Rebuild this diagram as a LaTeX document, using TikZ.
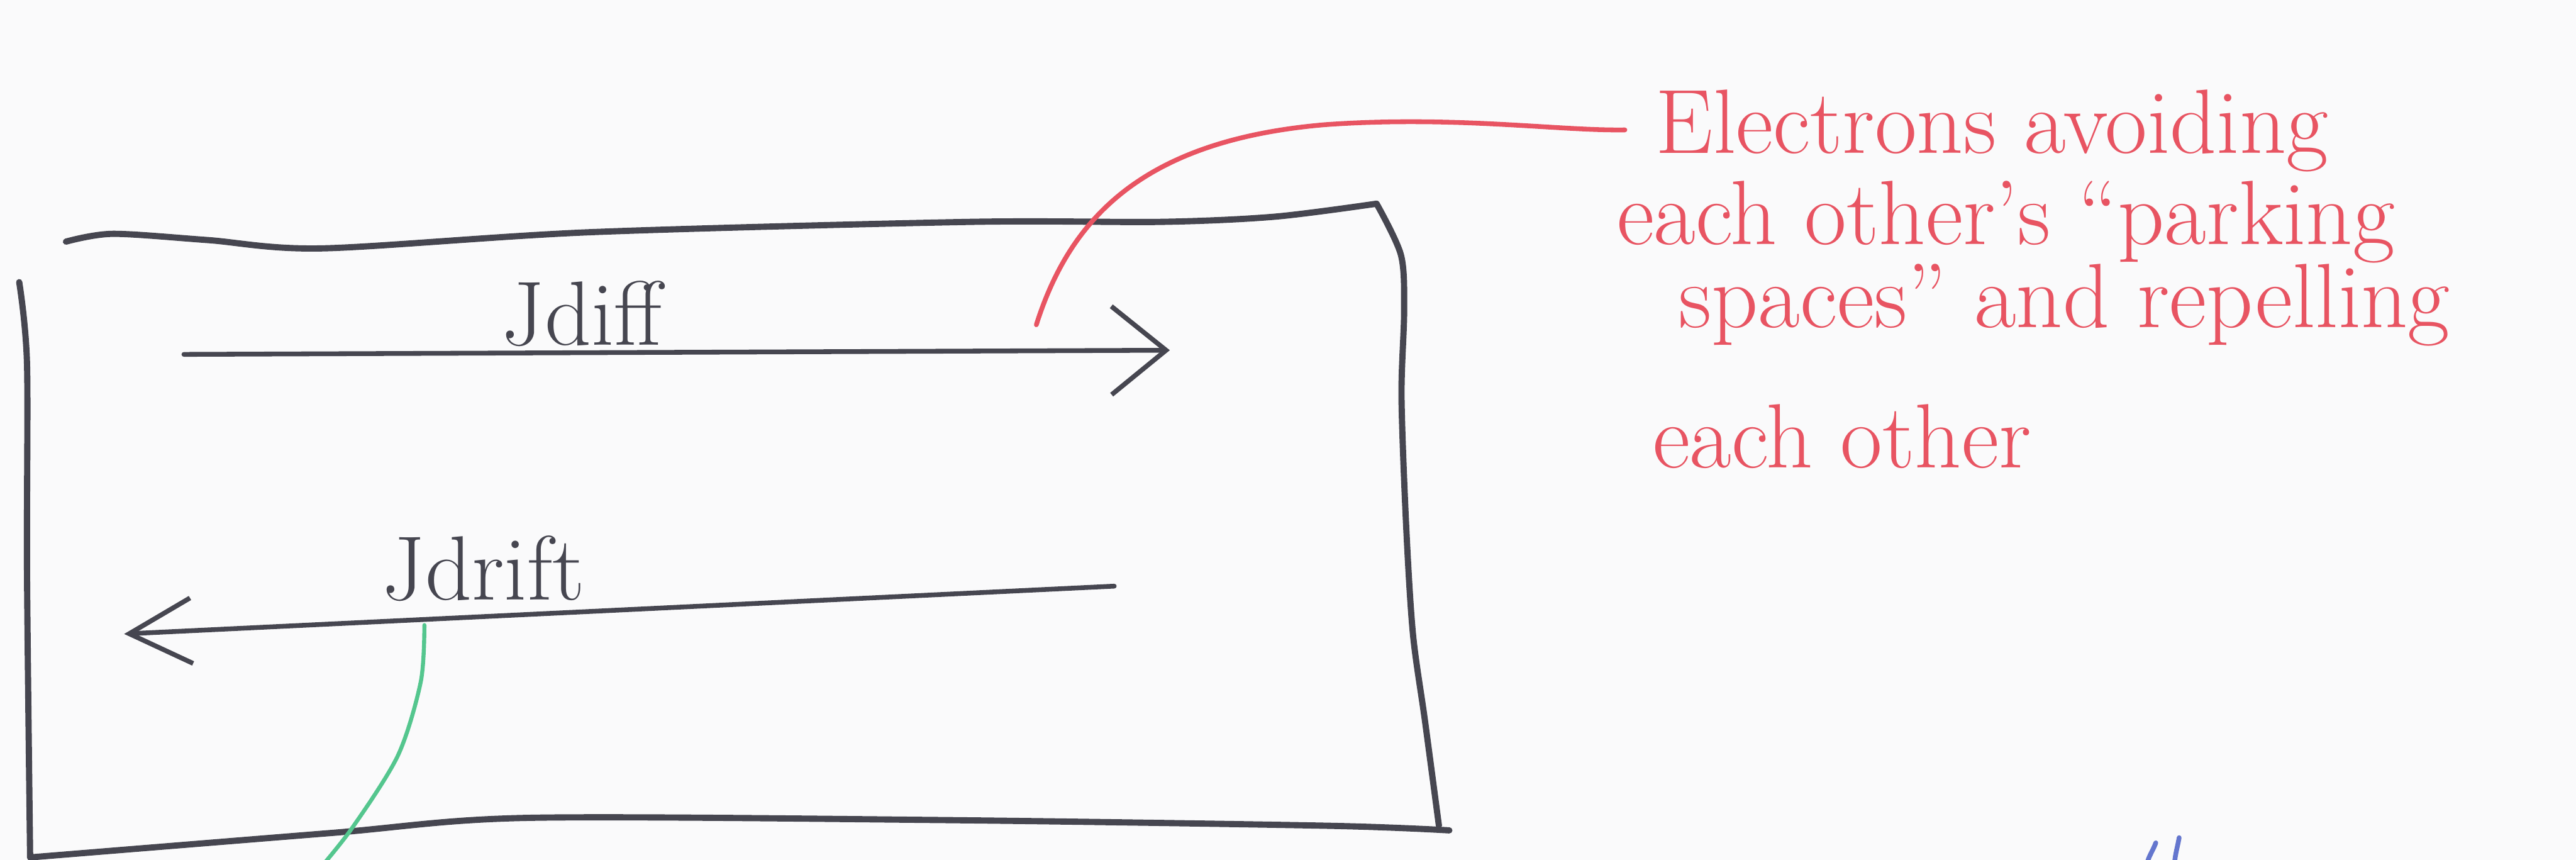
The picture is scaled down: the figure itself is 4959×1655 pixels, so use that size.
\documentclass[tikz,border=0pt]{standalone}
\usepackage{tikz}
\usetikzlibrary{arrows.meta}
\definecolor{Paper}{RGB}{250,250,251}
\definecolor{PenGray}{RGB}{70,70,80}
\definecolor{PenRed}{RGB}{232,84,98}
\definecolor{PenGreen}{RGB}{84,198,142}
\definecolor{PenBlue}{RGB}{100,118,206}

\begin{document}
\begin{tikzpicture}[x=0.01cm,y=-0.01cm,line cap=round,line join=round,
    edge/.style={PenGray,line width=3.4pt},
    flux/.style={PenGray,line width=2.6pt},
    leader/.style={PenRed,line width=2.6pt},
    probe/.style={PenGreen,line width=2.2pt},
    tick/.style={PenBlue,line width=2.6pt},
    lab/.style={PenGray,anchor=base west,inner sep=0pt,font=\fontsize{50}{60}\selectfont},
    note/.style={PenRed,anchor=base west,inner sep=0pt,font=\fontsize{50}{60}\selectfont}]
  \fill[Paper] (0,0) rectangle (4959,1655);
  \useasboundingbox (0,0) rectangle (4959,1655);
  % sample outline
  \draw[edge] plot[smooth] coordinates {(127,465) (217,450) (400,462) (620,478) (1133,447) (1867,427) (2234,427) (2454,417) (2650,392)};
  \draw[edge] plot[smooth] coordinates {(2650,392) (2697,491) (2703,599) (2698,764) (2707,1013) (2720,1220) (2743,1386) (2770,1589)};
  \draw[edge] plot[smooth] coordinates {(37,543) (52,700) (52,1100) (58,1650)};
  \draw[edge] plot[smooth] coordinates {(58,1650) (638,1603) (1012,1574) (1800,1578) (2550,1589) (2790,1598)};
  % currents
  \coordinate (diff tail) at (354,682);
  \coordinate (diff head) at (2252,674);
  \coordinate (drift tail) at (2145,1128);
  \coordinate (drift head) at (239,1220);
  \draw[flux,-{Straight Barb[length=1.05cm,width=1.7cm]}] (diff tail) -- (diff head);
  \draw[flux,-{Straight Barb[length=1.2cm,width=1.26cm]}] (drift tail) -- (drift head);
  \node[lab] (diff lab) at (965,664) {Jdiff};
  \node[lab] (drift lab) at (735,1154) {Jdrift};
  % red remark
  \node[note] (note one) at (3187,295) {Electrons avoiding};
  \node[note] (note two) at (3112,470) {each other's ``parking};
  \node[note] (note three) at (3231,630) {spaces'' and repelling};
  \node[note] (note four) at (3181,900) {each other};
  \coordinate (lead start) at (1995,625);
  \coordinate (lead end) at (3128,250);
  \draw[leader] (lead start) .. controls (2060,420) and (2200,270) .. (2550,240)
    .. controls (2800,222) and (3000,252) .. (lead end);
  % green line and blue marks
  \coordinate (probe top) at (817,1203);
  \draw[probe] plot[smooth] coordinates {(probe top) (810,1312) (766,1454) (676,1596) (600,1690)};
  \draw[tick] (4150,1622) to[out=250,in=85] (4132,1670);
  \draw[tick] (4195,1612) to[out=260,in=90] (4186,1670);
\end{tikzpicture}
\end{document}
